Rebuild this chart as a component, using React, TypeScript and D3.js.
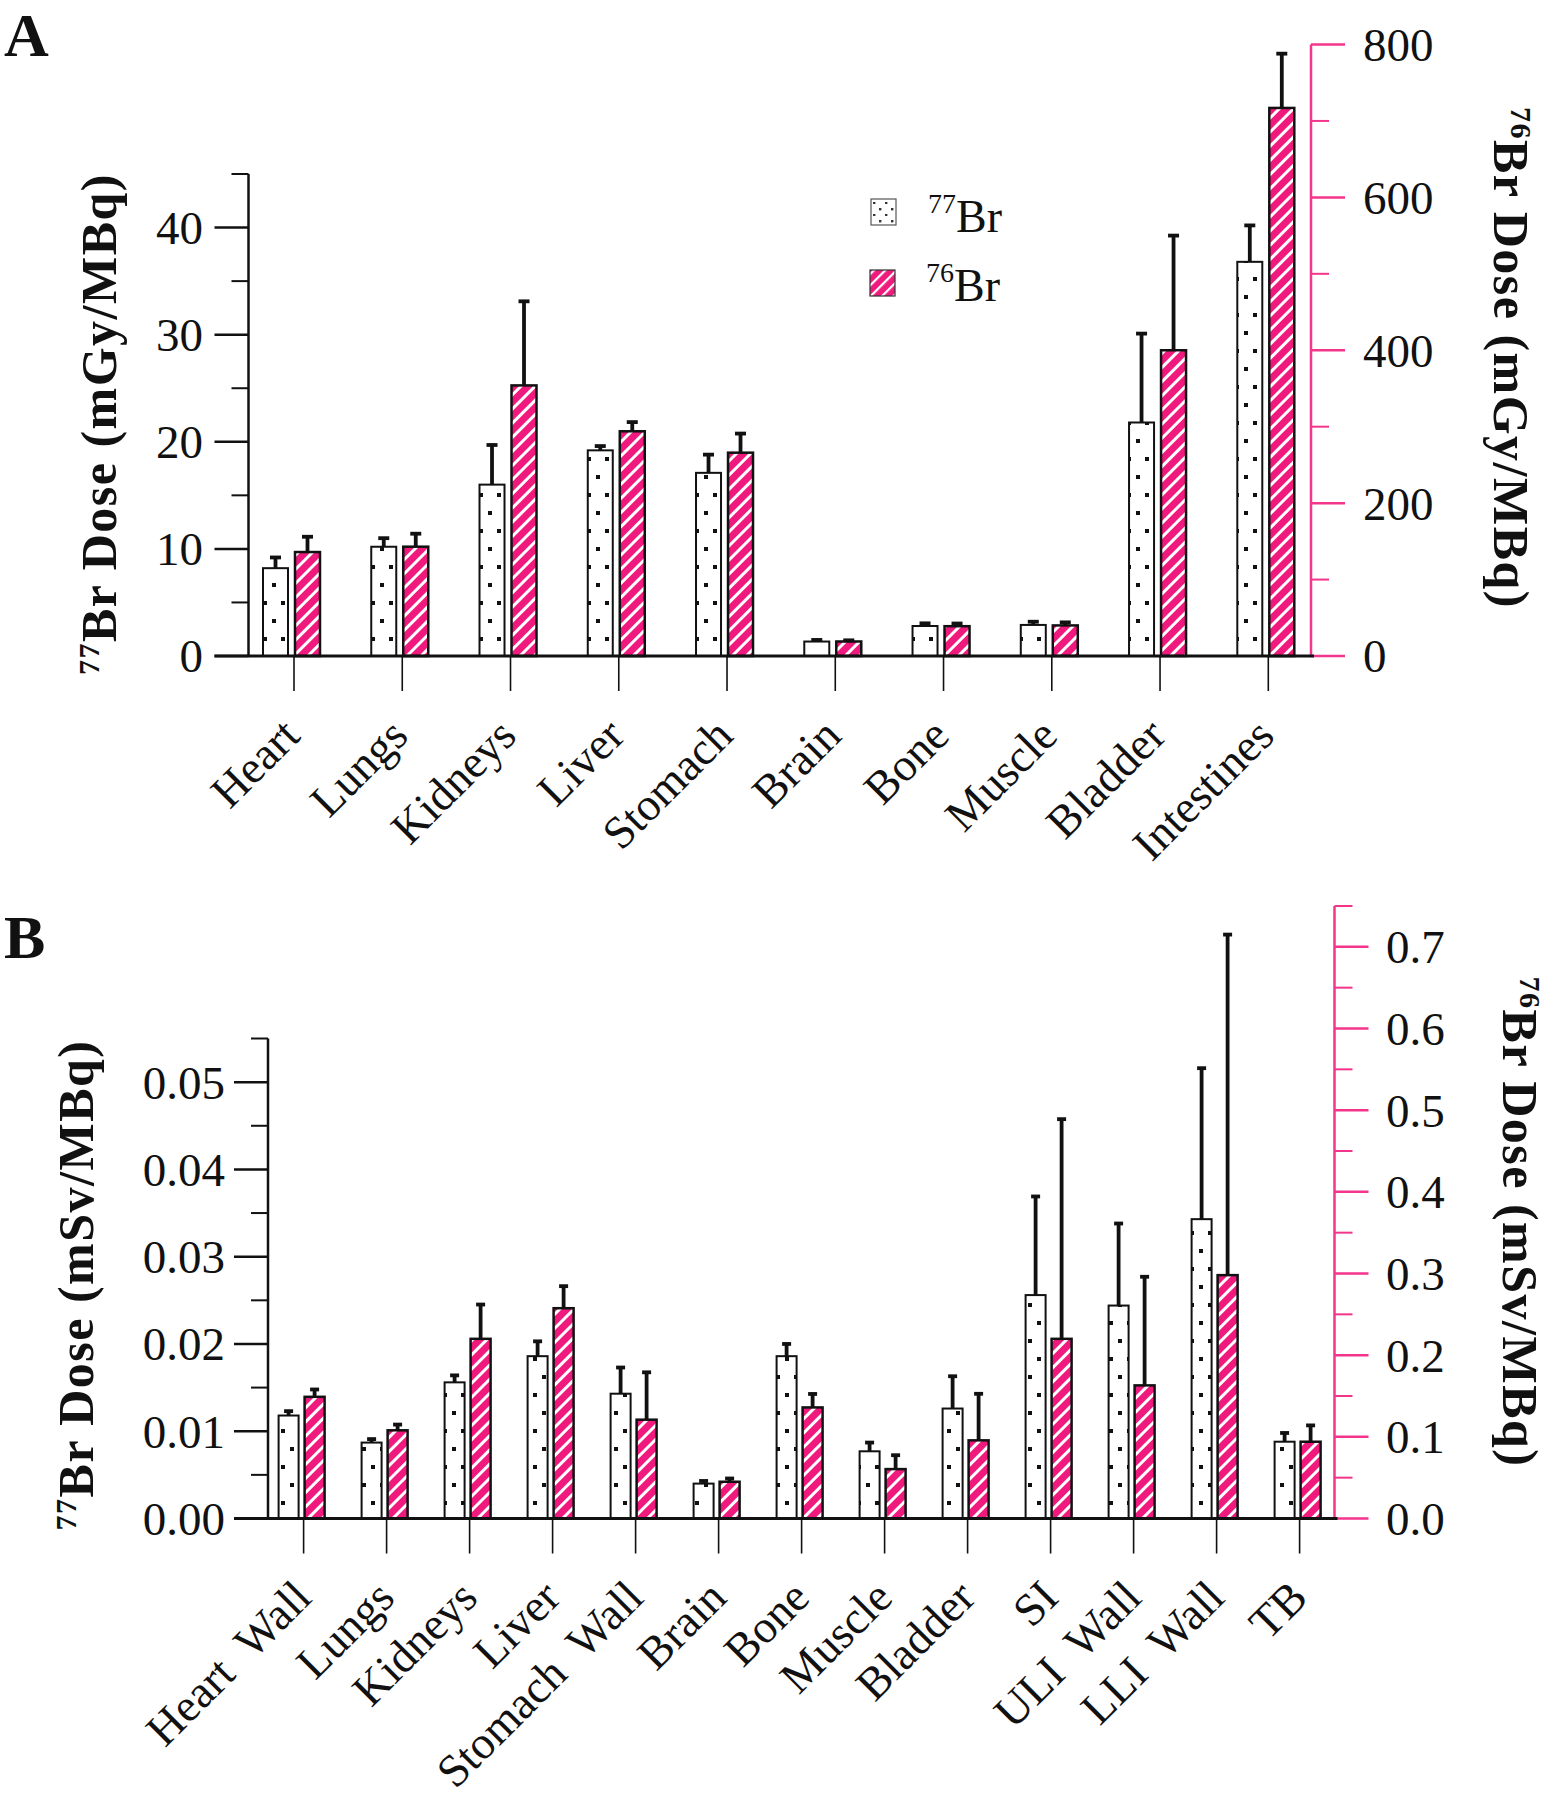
import * as d3 from "d3";

const PINK = "#F0197D";
const AXIS_PINK = "#F4358C";
const FONT = "'Liberation Serif', 'Times New Roman', Times, serif";

// Panel A: absorbed dose per organ (mGy/MBq)
const organsA = ["Heart", "Lungs", "Kidneys", "Liver", "Stomach", "Brain", "Bone", "Muscle", "Bladder", "Intestines"];
const br77DoseA = [8.2, 10.2, 16.0, 19.2, 17.1, 1.35, 2.8, 2.9, 21.8, 36.8];
const br77SdA = [1.0, 0.8, 3.7, 0.4, 1.7, 0.15, 0.25, 0.3, 8.3, 3.4];
const br76DoseA = [136, 143, 354, 294, 266, 19, 39, 40, 400, 717];
const br76SdA = [20, 17, 110, 12, 25, 1.5, 3.5, 4, 150, 71];
const leftTicksA = [0, 10, 20, 30, 40];
const leftMinorA = [5, 15, 25, 35, 45];
const rightTicksA = [0, 200, 400, 600, 800];
const rightMinorA = [100, 300, 500, 700];

// Panel B: effective dose per organ (mSv/MBq)
const organsB = ["Heart  Wall", "Lungs", "Kidneys", "Liver", "Stomach  Wall", "Brain", "Bone", "Muscle", "Bladder", "SI", "ULI  Wall", "LLI  Wall", "TB"];
const br77DoseB = [0.0118, 0.0087, 0.0156, 0.0186, 0.0143, 0.004, 0.0186, 0.0077, 0.0126, 0.0256, 0.0244, 0.0343, 0.0088];
const br77SdB = [0.0005, 0.0004, 0.0008, 0.0017, 0.003, 0.0003, 0.0014, 0.001, 0.0037, 0.0113, 0.0094, 0.0173, 0.001];
const br76DoseB = [0.149, 0.108, 0.22, 0.2575, 0.121, 0.045, 0.136, 0.0605, 0.0957, 0.22, 0.163, 0.298, 0.094];
const br76SdB = [0.009, 0.007, 0.042, 0.027, 0.058, 0.004, 0.0165, 0.017, 0.057, 0.269, 0.133, 0.417, 0.02];
const leftTicksB = [0, 0.01, 0.02, 0.03, 0.04, 0.05];
const leftMinorB = [0.005, 0.015, 0.025, 0.035, 0.045, 0.055];
const rightTicksB = [0, 0.1, 0.2, 0.3, 0.4, 0.5, 0.6, 0.7];
const rightMinorB = [0.05, 0.15, 0.25, 0.35, 0.45, 0.55, 0.65, 0.75];

interface Geom {
  xLeft: number;
  xRight: number;
  yBase: number;
  yLeftTop: number;
  yRightTop: number;
  firstCenter: number;
  lastCenter: number;
  barW: number;
  gap: number;
  capW: number;
  leftLabelX: number;
  rightLabelX: number;
  catLabelDx: number;
  catLabelY: number;
  leftTitle: [number, number];
  rightTitle: [number, number];
  letterY: number;
}

interface PanelProps {
  letter: string;
  unit: string;
  organs: string[];
  v77: number[];
  e77: number[];
  v76: number[];
  e76: number[];
  leftMax: number;
  rightMax: number;
  leftTicks: number[];
  leftMinor: number[];
  rightTicks: number[];
  rightMinor: number[];
  leftFmt: (d: number) => string;
  rightFmt: (d: number) => string;
  g: Geom;
  legend?: boolean;
}

function Title({ x, y, rot, iso, unit }: { x: number; y: number; rot: number; iso: string; unit: string }) {
  return (
    <text
      transform={`translate(${x},${y}) rotate(${rot})`}
      textAnchor="middle"
      fontFamily={FONT}
      fontWeight="bold"
      fontSize={50}
      letterSpacing={1.5}
      fill="#111"
    >
      <tspan fontSize={30} dy={-17}>{iso}</tspan>
      <tspan dy={17}>{`Br Dose (${unit}/MBq)`}</tspan>
    </text>
  );
}

function Panel(p: PanelProps) {
  const { g } = p;
  const n = p.organs.length;
  const step = (g.lastCenter - g.firstCenter) / (n - 1);
  const x = d3
    .scaleBand<string>()
    .domain(p.organs)
    .range([g.firstCenter - step / 2, g.lastCenter + step / 2])
    .padding(0);
  const center = (o: string) => (x(o) ?? 0) + x.bandwidth() / 2;
  const sub = d3
    .scaleBand<string>()
    .domain(["77Br", "76Br"])
    .range([-(g.barW + g.gap) + 1, g.barW + 1])
    .paddingInner(g.gap / (g.barW + g.gap));
  const yL = d3.scaleLinear().domain([0, p.leftMax]).range([g.yBase, g.yLeftTop]);
  const yR = d3.scaleLinear().domain([0, p.rightMax]).range([g.yBase, g.yRightTop]);

  const series = [
    { key: "77Br", vals: p.v77, errs: p.e77, y: yL, fill: "url(#dots)", sw: 2 },
    { key: "76Br", vals: p.v76, errs: p.e76, y: yR, fill: "url(#stripes)", sw: 2.5 },
  ];

  return (
    <g>
      <text x={4} y={g.letterY} fontFamily={FONT} fontWeight="bold" fontSize={62} fill="#111">
        {p.letter}
      </text>

      {series.map((s) => (
        <g key={s.key}>
          {p.organs.map((o, i) => {
            const bx = center(o) + (sub(s.key) ?? 0);
            const top = s.y(s.vals[i]);
            return (
              <rect
                key={o}
                x={bx}
                y={top}
                width={sub.bandwidth()}
                height={g.yBase - top}
                fill={s.fill}
                stroke="#111"
                strokeWidth={s.sw}
              />
            );
          })}
        </g>
      ))}

      {series.map((s) => (
        <g key={s.key + "err"} stroke="#111" strokeWidth={3.8}>
          {p.organs.map((o, i) => {
            const cx = center(o) + (sub(s.key) ?? 0) + sub.bandwidth() / 2;
            const y0 = s.y(s.vals[i]);
            const y1 = s.y(s.vals[i] + s.errs[i]);
            return (
              <g key={o}>
                <line x1={cx} x2={cx} y1={y0} y2={y1} />
                <line x1={cx - g.capW / 2} x2={cx + g.capW / 2} y1={y1} y2={y1} />
              </g>
            );
          })}
        </g>
      ))}

      {/* left axis */}
      <line x1={g.xLeft} x2={g.xLeft} y1={g.yBase} y2={g.yLeftTop} stroke="#111" strokeWidth={2.5} />
      {p.leftTicks.map((t) => (
        <g key={t}>
          <line x1={g.xLeft - 34} x2={g.xLeft} y1={yL(t)} y2={yL(t)} stroke="#111" strokeWidth={2.5} />
          <text
            x={g.leftLabelX}
            y={yL(t)}
            dy="0.35em"
            textAnchor="end"
            fontFamily={FONT}
            fontSize={47}
            fill="#111"
          >
            {p.leftFmt(t)}
          </text>
        </g>
      ))}
      {p.leftMinor.map((t) => (
        <line key={t} x1={g.xLeft - 17} x2={g.xLeft} y1={yL(t)} y2={yL(t)} stroke="#111" strokeWidth={2} />
      ))}

      {/* right axis */}
      <line x1={g.xRight} x2={g.xRight} y1={g.yBase} y2={g.yRightTop} stroke={AXIS_PINK} strokeWidth={2.5} />
      {p.rightTicks.map((t) => (
        <g key={t}>
          <line x1={g.xRight} x2={g.xRight + 34} y1={yR(t)} y2={yR(t)} stroke={AXIS_PINK} strokeWidth={2.5} />
          <text
            x={g.rightLabelX}
            y={yR(t)}
            dy="0.35em"
            fontFamily={FONT}
            fontSize={47}
            fill="#111"
          >
            {p.rightFmt(t)}
          </text>
        </g>
      ))}
      {p.rightMinor.map((t) => (
        <line key={t} x1={g.xRight} x2={g.xRight + 18} y1={yR(t)} y2={yR(t)} stroke={AXIS_PINK} strokeWidth={2} />
      ))}

      {/* category axis */}
      <line x1={g.xLeft - 34} x2={g.xRight + 3} y1={g.yBase} y2={g.yBase} stroke="#111" strokeWidth={3} />
      {p.organs.map((o) => (
        <g key={o}>
          <line x1={center(o)} x2={center(o)} y1={g.yBase} y2={g.yBase + 35} stroke="#111" strokeWidth={1.6} />
          <text
            transform={`translate(${center(o) + g.catLabelDx},${g.catLabelY}) rotate(-45)`}
            textAnchor="end"
            fontFamily={FONT}
            fontSize={46}
            fill="#111"
            style={{ whiteSpace: "pre" }}
          >
            {o}
          </text>
        </g>
      ))}

      <Title x={g.leftTitle[0]} y={g.leftTitle[1]} rot={-90} iso="77" unit={p.unit} />
      <Title x={g.rightTitle[0]} y={g.rightTitle[1]} rot={90} iso="76" unit={p.unit} />

      {p.legend ? (
        <g fontFamily={FONT} fill="#111">
          <rect x={871} y={199} width={25} height={26} fill="url(#dotsSmall)" stroke="#555" strokeWidth={1.2} />
          <text x={928} y={232} fontSize={46}>
            <tspan fontSize={28} dy={-19}>77</tspan>
            <tspan dy={19}>Br</tspan>
          </text>
          <rect x={870} y={270} width={25} height={26} fill="url(#stripesSmall)" stroke="#333" strokeWidth={1.2} />
          <text x={926} y={301} fontSize={46}>
            <tspan fontSize={28} dy={-19}>76</tspan>
            <tspan dy={19}>Br</tspan>
          </text>
        </g>
      ) : null}
    </g>
  );
}

const geomA: Geom = {
  xLeft: 248.5,
  xRight: 1311,
  yBase: 656,
  yLeftTop: 174,
  yRightTop: 44.5,
  firstCenter: 294,
  lastCenter: 1268.3,
  barW: 25,
  gap: 7,
  capW: 11,
  leftLabelX: 203,
  rightLabelX: 1363,
  catLabelDx: 8,
  catLabelY: 738,
  leftTitle: [116, 424],
  rightTitle: [1494, 358],
  letterY: 56,
};

const geomB: Geom = {
  xLeft: 268,
  xRight: 1334.5,
  yBase: 1518.5,
  yLeftTop: 1038.5,
  yRightTop: 906,
  firstCenter: 303.6,
  lastCenter: 1299.6,
  barW: 20,
  gap: 6,
  capW: 9,
  leftLabelX: 225,
  rightLabelX: 1386,
  catLabelDx: 10,
  catLabelY: 1600,
  leftTitle: [93, 1285],
  rightTitle: [1503, 1222],
  letterY: 958,
};

export default function App() {
  return (
    <svg
      width={1554}
      height={1800}
      viewBox="0 0 1554 1800"
      style={{ position: "absolute", left: 0, top: 0, background: "#fff" }}
    >
      <defs>
        <pattern id="dots" patternUnits="userSpaceOnUse" width={18} height={36}>
          <rect width={18} height={36} fill="#fff" />
          <rect x={2} y={7} width={4} height={4} fill="#111" />
          <rect x={11} y={25} width={4} height={4} fill="#111" />
        </pattern>
        <pattern id="dotsSmall" patternUnits="userSpaceOnUse" width={12} height={12}>
          <rect width={12} height={12} fill="#fff" />
          <rect x={3} y={4} width={2.4} height={2.4} fill="#333" />
          <rect x={9} y={10} width={2.4} height={2.4} fill="#333" />
        </pattern>
        <pattern id="stripes" patternUnits="userSpaceOnUse" width={10} height={10} patternTransform="rotate(45)">
          <rect width={10} height={10} fill={PINK} />
          <rect x={0} y={0} width={3} height={10} fill="#fff" />
        </pattern>
        <pattern id="stripesSmall" patternUnits="userSpaceOnUse" width={8} height={8} patternTransform="rotate(45)">
          <rect width={8} height={8} fill={PINK} />
          <rect x={0} y={0} width={2.2} height={8} fill="#fff" />
        </pattern>
      </defs>
      <rect width={1554} height={1800} fill="#fff" />
      <Panel
        letter="A"
        unit="mGy"
        organs={organsA}
        v77={br77DoseA}
        e77={br77SdA}
        v76={br76DoseA}
        e76={br76SdA}
        leftMax={45}
        rightMax={800}
        leftTicks={leftTicksA}
        leftMinor={leftMinorA}
        rightTicks={rightTicksA}
        rightMinor={rightMinorA}
        leftFmt={d3.format("d")}
        rightFmt={d3.format("d")}
        g={geomA}
        legend
      />
      <Panel
        letter="B"
        unit="mSv"
        organs={organsB}
        v77={br77DoseB}
        e77={br77SdB}
        v76={br76DoseB}
        e76={br76SdB}
        leftMax={0.055}
        rightMax={0.75}
        leftTicks={leftTicksB}
        leftMinor={leftMinorB}
        rightTicks={rightTicksB}
        rightMinor={rightMinorB}
        leftFmt={d3.format(".2f")}
        rightFmt={d3.format(".1f")}
        g={geomB}
      />
    </svg>
  );
}
